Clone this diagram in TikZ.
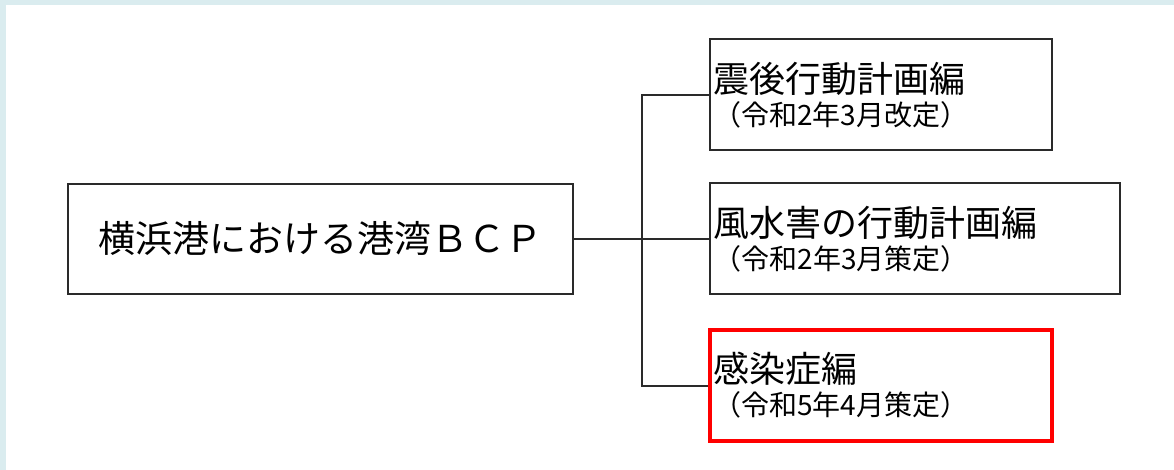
\documentclass[tikz,border=0pt]{standalone}
\usepackage{fontspec}
\newfontfamily\jp{Noto Sans CJK JP}
\definecolor{framebg}{HTML}{DAECEF}
\definecolor{linecol}{HTML}{2A2A2A}
\definecolor{redbox}{HTML}{FF0000}
\begin{document}
\begin{tikzpicture}[x=1pt,y=-1pt,
  box/.style={draw=linecol,line width=2pt,rectangle,inner sep=0pt,anchor=center},
  sub/.style={box,align=left,inner xsep=3.5pt,inner ysep=0pt,font=\jp},
  conn/.style={draw=linecol,line width=2pt}]
\useasboundingbox (0,0) rectangle (1174,470);
\fill[framebg] (0,0) rectangle (1174,470);
\fill[white] (6,5) rectangle (1174,470);
\node[box,minimum width=505pt,minimum height=110pt,font=\jp\fontsize{37}{40}\selectfont] (main) at (320.5,238.8) {横浜港における港湾ＢＣＰ};
\node[sub,text width=335pt,minimum height=110.5pt] (b1) at (880.5,94.75)
  {{\fontsize{36}{36}\selectfont 震後行動計画編}\\[5pt]{\fontsize{28}{36}\selectfont （令和2年3月改定）}};
\node[sub,text width=402.5pt,minimum height=110.8pt] (b2) at (914.75,238.8)
  {{\fontsize{36}{36}\selectfont 風水害の行動計画編}\\[5pt]{\fontsize{28}{36}\selectfont （令和2年3月策定）}};
\node[sub,draw=redbox,line width=4pt,text width=335pt,minimum height=110.4pt] (b3) at (880.7,385.5)
  {{\fontsize{36}{36}\selectfont 感染症編}\\[5pt]{\fontsize{28}{36}\selectfont （令和5年4月策定）}};
\coordinate (trunk) at (641.7,238.8);
\draw[conn] (main.east) -- (b2.west);
\draw[conn] (b1.west) -| (trunk) |- (b3.west);
\end{tikzpicture}
\end{document}
